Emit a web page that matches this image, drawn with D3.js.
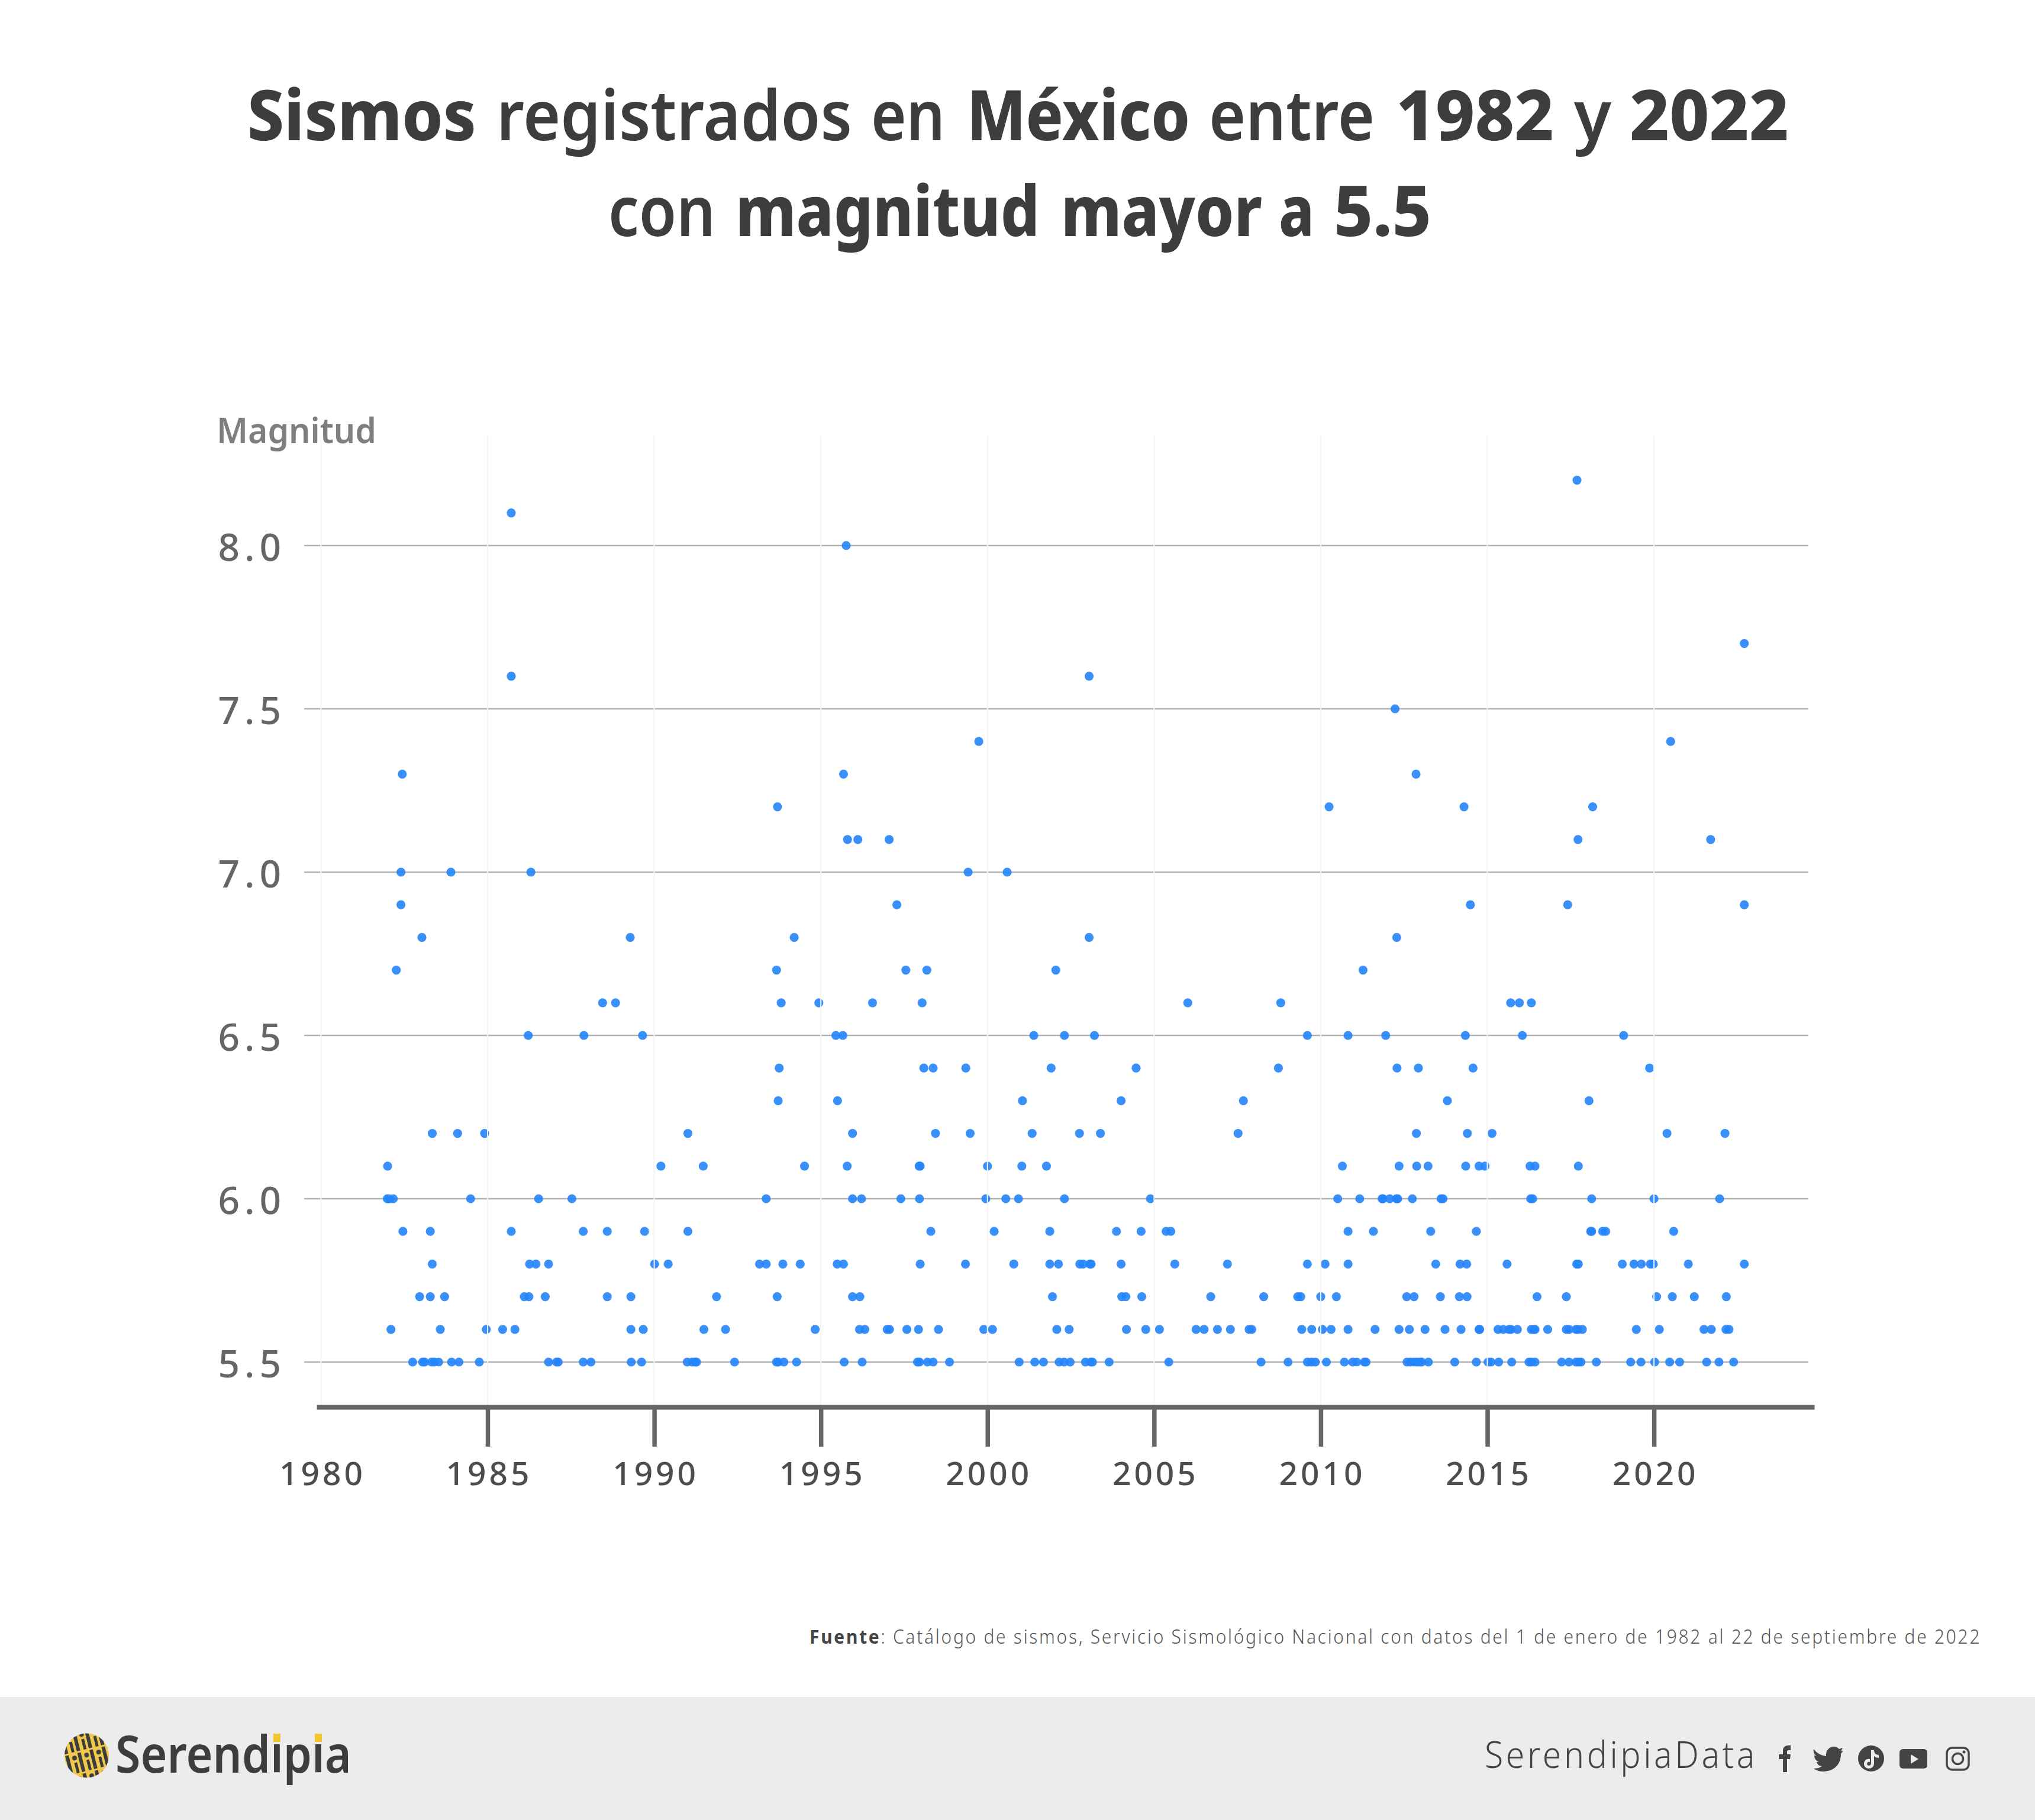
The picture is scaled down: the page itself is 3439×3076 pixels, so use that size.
<!DOCTYPE html>
<html lang="es">
<head>
<meta charset="utf-8">
<title>Sismos registrados en México</title>
<script src="https://cdn.jsdelivr.net/npm/d3@7/dist/d3.min.js"></script>
<style>
html,body{margin:0;padding:0;background:#fff}
svg{display:block}
text{font-family:"Noto Sans",sans-serif}
</style>
</head>
<body>
<div id="chart"></div>
<script>
const titleWords1 = ["Sismos","registrados","en","México","entre","1982","y","2022"];
const titleBold1 = [true,false,false,true,false,true,false,true];
const titleWords2 = ["con","magnitud","mayor","a","5.5"];
const titleBold2 = [false,true,true,true,true];
const yLabel = "Magnitud";
const sourceBold = "Fuente";
const sourceText = ": Catálogo de sismos, Servicio Sismológico Nacional con datos del 1 de enero de 1982 al 22 de septiembre de 2022";
const xTicks = [1980,1985,1990,1995,2000,2005,2010,2015,2020];
const yTicks = [5.5,6,6.5,7,7.5,8];

const m82 = [2017.69];
const m81 = [1985.71];
const m80 = [1995.76];
const m77 = [2022.71];
const m76 = [1985.71,2003.05];
const m75 = [2012.23];
const m74 = [1999.74,2020.50];
const m73 = [1982.44,1995.68,2012.86];
const m72 = [1993.70,2010.25,2014.30,2018.16];
const m71 = [1995.80,1996.11,1997.05,2017.72,2021.70];
const m70 = [1982.40,1983.90,1986.30,1999.42,2000.59];
const m69 = [1982.40,1997.28,2014.49,2017.41,2022.71];
const m68 = [1983.03,1989.28,1994.20,2003.05,2012.28];
const m67 = [1982.26,1993.67,1997.55,1998.18,2002.05,2011.27];
const m66 = [1988.45,1988.84,1993.81,1994.94,1996.55,1998.04,2006.01,2008.80,2015.70,2015.96,2016.32];
const m65 = [1986.22,1987.89,1989.65,1995.45,1995.66,2001.39,2002.31,2003.21,2009.60,2010.82,2011.95,2014.34,2016.05,2019.09];
const m64 = [1993.75,1998.09,1998.37,1999.35,2001.91,2004.46,2008.73,2012.29,2012.93,2014.57,2019.87];
const m63 = [1993.72,1995.50,2001.05,2004.01,2007.68,2013.80,2018.05];
const m62 = [1983.34,1984.10,1984.91,1991.01,1995.95,1998.44,1999.48,2001.34,2002.76,2003.39,2007.52,2012.87,2014.40,2015.14,2020.39,2022.13];
const m61 = [1982.00,1990.20,1991.47,1994.51,1995.79,1997.95,1997.98,2000.00,2001.03,2001.77,2010.65,2012.35,2012.88,2013.22,2014.35,2014.75,2014.93,2016.28,2016.43,2017.73];
const m60 = [1981.99,1982.05,1982.17,1984.49,1986.53,1987.53,1993.36,1995.95,1996.22,1997.40,1997.96,1999.95,2000.55,2000.93,2002.31,2004.89,2010.51,2011.17,2011.84,2011.87,2012.07,2012.27,2012.31,2012.75,2013.61,2013.67,2016.30,2016.36,2018.13,2020.00,2021.97];
const m59 = [1982.46,1983.28,1985.71,1987.87,1988.59,1989.71,1991.01,1998.30,2000.20,2001.87,2003.87,2004.61,2005.36,2005.50,2010.82,2011.58,2013.30,2014.67,2018.10,2018.13,2018.46,2018.55,2020.59];
const m58 = [1983.34,1986.26,1986.45,1986.83,1990.01,1990.42,1993.16,1993.36,1993.86,1994.38,1995.49,1995.68,1997.98,1999.34,2000.79,2001.87,2002.13,2002.77,2002.87,2003.07,2003.11,2004.01,2005.62,2007.20,2009.60,2010.13,2010.82,2013.45,2014.18,2014.38,2015.59,2017.68,2017.73,2019.05,2019.40,2019.62,2019.89,2019.98,2021.03,2022.71];
const m57 = [1982.96,1983.28,1983.71,1986.10,1986.24,1986.73,1988.59,1989.30,1991.87,1993.69,1995.95,1996.17,2001.95,2004.03,2004.15,2004.63,2006.70,2008.29,2009.31,2009.40,2010.00,2010.47,2012.58,2012.80,2013.59,2014.16,2014.39,2016.49,2017.37,2020.08,2020.55,2021.21,2022.17];
const m56 = [1982.10,1983.58,1984.96,1985.45,1985.82,1989.30,1989.67,1991.49,1992.14,1994.83,1996.16,1996.32,1996.99,1997.06,1997.58,1997.93,1998.53,1999.89,2000.15,2002.08,2002.45,2004.17,2004.75,2005.16,2006.26,2006.50,2006.90,2007.29,2007.85,2007.93,2009.43,2009.73,2010.05,2010.31,2010.82,2011.63,2012.35,2012.66,2013.13,2013.73,2014.21,2014.75,2014.77,2015.32,2015.48,2015.65,2015.71,2015.90,2016.32,2016.40,2016.43,2016.81,2017.37,2017.45,2017.66,2017.72,2017.85,2019.47,2020.16,2021.50,2021.72,2022.16,2022.25];
const m55 = [1982.75,1983.05,1983.11,1983.32,1983.40,1983.53,1983.92,1984.14,1984.75,1986.83,1987.07,1987.12,1987.87,1988.10,1989.31,1989.62,1990.99,1991.14,1991.23,1991.27,1992.41,1993.67,1993.72,1993.89,1994.27,1995.70,1996.24,1997.90,1997.96,1998.20,1998.37,1998.86,2000.95,2001.42,2001.68,2002.15,2002.30,2002.48,2002.94,2003.10,2003.15,2003.65,2005.44,2008.21,2009.02,2009.60,2009.72,2009.84,2010.17,2010.71,2010.96,2011.08,2011.31,2011.36,2012.59,2012.69,2012.79,2012.88,2012.97,2013.03,2013.23,2014.02,2014.67,2015.02,2015.11,2015.34,2015.73,2016.25,2016.32,2016.43,2017.23,2017.45,2017.66,2017.74,2017.81,2018.27,2019.30,2019.61,2020.02,2020.47,2020.77,2021.58,2021.95,2022.39];

const magnitudes = [8.2,8.1,8.0,7.7,7.6,7.5,7.4,7.3,7.2,7.1,7.0,6.9,6.8,6.7,6.6,6.5,6.4,6.3,6.2,6.1,6.0,5.9,5.8,5.7,5.6,5.5];
const yearsByMagnitude = [m82,m81,m80,m77,m76,m75,m74,m73,m72,m71,m70,m69,m68,m67,m66,m65,m64,m63,m62,m61,m60,m59,m58,m57,m56,m55];
const points = magnitudes.flatMap((m,i)=>yearsByMagnitude[i].map(year=>({year,m})));

const W=3439,H=3076;
const svg=d3.select("#chart").append("svg").attr("width",W).attr("height",H).attr("viewBox",`0 0 ${W} ${H}`);
svg.append("rect").attr("width",W).attr("height",H).attr("fill","#fff");

const x=d3.scaleLinear().domain([1979.87,2024.81]).range([535.1,3066]);
const y=d3.scaleLinear().domain([5.5,8]).range([2302,922]);

// squeezes a text horizontally so that it spans exactly `len` pixels from `left`
function fit(sel,left,base,len){
  const natural=sel.node().getComputedTextLength();
  sel.attr("x",0).attr("y",0).attr("transform",`translate(${left},${base}) scale(${len/natural},1)`);
  return sel;
}

// title: each word is fitted to its measured span
function titleLine(words,bold,spans,yy){
  const g=svg.append("g");
  words.forEach((w,i)=>{
    const t=g.append("text").attr("font-size",118).attr("fill","#3d3d3d")
      .attr("font-weight",bold[i]?800:600).text(w);
    fit(t,spans[i][0]-3,yy,spans[i][1]-spans[i][0]+6);
  });
}
titleLine(titleWords1,titleBold1,[[421,802],[842,1437],[1475,1594],[1637,2008],[2046,2320],[2362,2623],[2663,2720],[2757,3020]],237);
titleLine(titleWords2,titleBold2,[[1031,1206],[1246,1754],[1796,2130],[2164,2218],[2257,2416]],399);

// horizontal grid
svg.append("g").selectAll("line").data(yTicks).join("line")
  .attr("x1",514).attr("x2",3056).attr("y1",d=>y(d)).attr("y2",d=>y(d))
  .attr("stroke","#b2b2b2").attr("stroke-width",2.5);

// dots
svg.append("g").selectAll("circle").data(points).join("circle")
  .attr("cx",d=>x(d.year)).attr("cy",d=>y(d.m)).attr("r",7.6)
  .attr("fill","#2484fb").attr("fill-opacity",0.9);

// vertical grid above the dots
svg.append("g").selectAll("line").data(xTicks).join("line")
  .attr("x1",d=>x(d)).attr("x2",d=>x(d)).attr("y1",737).attr("y2",2378)
  .attr("stroke","#f4f4f4").attr("stroke-width",2);

// x axis
const gx=svg.append("g").attr("transform","translate(0,2378)")
  .call(d3.axisBottom(x).tickValues(xTicks).tickFormat(d3.format("d")).tickSize(67).tickSizeOuter(0));
gx.select(".domain").attr("stroke","#666").attr("stroke-width",8);
gx.selectAll(".tick line").attr("stroke","#666").attr("stroke-width",7.5);
gx.selectAll(".tick").filter(d=>d===1980).select("line").remove();
gx.selectAll(".tick text").attr("y",0).attr("dy",0).attr("transform","translate(2,132)")
  .attr("font-size",55).attr("font-weight",500).attr("fill","#4d4d4d").attr("text-anchor","middle").attr("letter-spacing",5)
  .style("font-family",'"Noto Sans",sans-serif');

// y axis labels
const gy=svg.append("g").attr("transform","translate(483,0)")
  .call(d3.axisLeft(y).tickValues(yTicks).tickFormat(d3.format(".1f")).tickSize(0));
gy.select(".domain").remove();
gy.selectAll(".tick text").attr("x",0).attr("dy",0).attr("y",25).attr("font-size",64).attr("font-weight",500).attr("fill","#666")
  .attr("text-anchor","end").attr("letter-spacing",8).style("font-family",'"Noto Sans",sans-serif');

fit(svg.append("text").attr("font-size",60).attr("font-weight",600).attr("fill","#7f7f7f").text(yLabel),366,749,270);

// source
const src=svg.append("text").attr("font-size",33).attr("fill","#555").attr("letter-spacing",3).style("white-space","pre");
src.append("tspan").attr("font-weight",700).attr("fill","#444").text(sourceBold);
src.append("tspan").attr("font-weight",300).text(sourceText);
fit(src,1368,2778,1981);

// footer
svg.append("rect").attr("x",0).attr("y",2868).attr("width",W).attr("height",H-2868).attr("fill","#ececec");

// logo
const defs=svg.append("defs");
const pat=defs.append("pattern").attr("id","lp").attr("patternUnits","userSpaceOnUse").attr("width",21).attr("height",36)
  .attr("patternTransform","translate(110 2930) rotate(-14)");
pat.append("rect").attr("width",21).attr("height",36).attr("fill","#f2c84b");
pat.append("circle").attr("cx",5.5).attr("cy",8).attr("r",4).attr("fill","#3d3d3d");
pat.append("path").attr("d","M12 1h6v33h-6zM3 16h5v18h-5z").attr("fill","#3d3d3d");
svg.append("circle").attr("cx",146.5).attr("cy",2967).attr("r",37.5).attr("fill","url(#lp)");

const brand=svg.append("text").attr("font-size",87).attr("font-weight",600).attr("fill","#3d3d3d").text("Serendipia");
const brandK=399/brand.node().getComputedTextLength();
fit(brand,195,2996,399);
// yellow dots over the two i
[6,8].forEach(i=>{
  const b=brand.node().getExtentOfChar(i);
  svg.append("rect").attr("x",195+(b.x+b.width/2)*brandK-6).attr("y",2930).attr("width",12).attr("height",14).attr("fill","#f2c531");
});

fit(svg.append("text").attr("font-size",62).attr("font-weight",300).attr("fill","#444").attr("letter-spacing",5).text("SerendipiaData"),2509,2988,461);

// social icons
const ic=svg.append("g").attr("fill","#444");
ic.append("path").attr("d","M3013 2995v-22h-7v-8h7v-6c0-6 4-9 9-9h4v8h-3c-2 0-3 1-3 3v4h6l-1 8h-5v22z");
ic.append("path").attr("d","M3065 2956c5 7 12 11 21 12-1-9 5-16 13-16 4 0 7 2 9 4l6-2-3 6 4-1-4 5c0 22-16 30-30 30-6 0-12-2-16-5 5 0 10-1 14-4-5 0-8-3-9-7h4c-5-2-8-6-8-11l4 1c-5-3-6-8-5-12z");
ic.append("circle").attr("cx",3162).attr("cy",2972).attr("r",22);
ic.append("path").attr("d","M3162 2958h5c0 5 3 8 8 8v5c-3 0-6-1-8-3v12c0 6-4 9-9 9s-8-4-8-8c0-6 5-9 10-8v5c-3-1-5 1-5 3s2 3 3 3c2 0 4-1 4-4z").attr("fill","#ececec");
ic.append("rect").attr("x",3210).attr("y",2956).attr("width",47).attr("height",33).attr("rx",6);
ic.append("path").attr("d","M3229 2965l13 8-13 8z").attr("fill","#ececec");
const ig=svg.append("g").attr("fill","none").attr("stroke","#444").attr("stroke-width",3.5);
ig.append("rect").attr("x",3290).attr("y",2954).attr("width",37).attr("height",37).attr("rx",9);
ig.append("circle").attr("cx",3308.5).attr("cy",2972.5).attr("r",9);
svg.append("circle").attr("cx",3319).attr("cy",2961).attr("r",2.5).attr("fill","#444");
</script>
</body>
</html>
